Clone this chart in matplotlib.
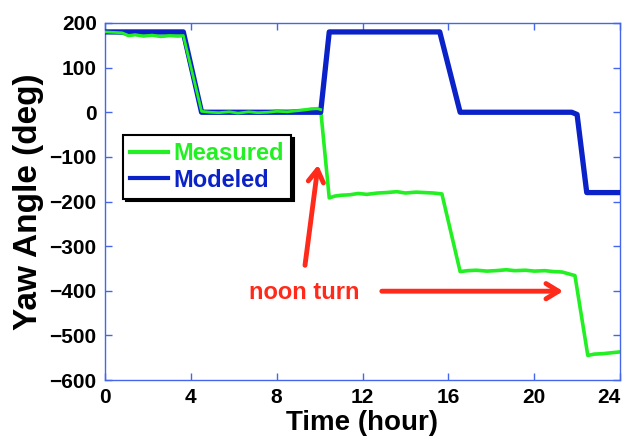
import numpy as np
import matplotlib.pyplot as plt

plt.rcParams['font.family'] = ['Liberation Sans', 'DejaVu Sans']
plt.rcParams['font.weight'] = 'bold'

# modeled yaw (deg) vs time (hour)
t_model = [0, 3.65, 4.5, 10.05, 10.45, 15.6, 16.55, 21.75, 22.0, 22.45, 24]
yaw_model = [180, 180, 0, 0, 180, 180, 0, 0, -5, -180, -180]

# measured yaw
t_meas = [0, 0.4, 0.8, 1.1, 1.4, 1.8, 2.2, 2.6, 3.0, 3.4, 3.65, 4.5, 4.9, 5.3, 5.8, 6.2,
          6.7, 7.1, 7.6, 8.0, 8.5, 8.9, 9.3, 9.6, 9.9, 10.05, 10.45, 10.7, 11.0, 11.4,
          11.8, 12.2, 12.7, 13.1, 13.6, 14.0, 14.5, 14.9, 15.3, 15.7, 16.55, 16.9, 17.3,
          17.8, 18.2, 18.7, 19.1, 19.6, 20.0, 20.5, 20.9, 21.3, 21.6, 21.9, 22.5, 22.8,
          23.2, 23.6, 24.0]
yaw_meas = [180, 179, 178, 172, 174, 171, 173, 170, 172, 171, 172, 2, 0, -1, 1, -2,
            1, -1, 0, 2, 1, 3, 5, 7, 8, 6, -192, -188, -186, -185,
            -182, -184, -181, -180, -178, -181, -179, -180, -181, -183, -357, -355, -354,
            -356, -355, -353, -355, -354, -356, -355, -357, -358, -362, -366, -545, -542,
            -541, -539, -537]

fig = plt.figure(figsize=(6.3, 4.41), dpi=100)
ax = fig.add_axes([105/630, 1-380/441, 515/630, 357/441])

ax.plot(t_meas, yaw_meas, color='#22f022', lw=2.6, label='Measured', zorder=2)
ax.plot(t_model, yaw_model, color='#0a22c8', lw=3.8, label='Modeled', zorder=3)
# measured drawn over the modeled where they overlap early on
ax.plot(t_meas[:26], yaw_meas[:26], color='#22f022', lw=2.0, zorder=4)

ax.set_xlim(0, 24)
ax.set_ylim(-600, 200)
ax.set_xticks(np.arange(0, 25, 4))
ax.set_yticks(np.arange(-600, 201, 100))

spine_c = '#4466ee'
for s in ax.spines.values():
    s.set_color(spine_c)
    s.set_linewidth(1.0)
ax.tick_params(direction='in', length=5, width=1, color=spine_c, labelsize=15,
               top=True, right=True, pad=6)
for lab in ax.get_xticklabels() + ax.get_yticklabels():
    lab.set_fontweight('bold')
ax.get_xticklabels()[-1].set_horizontalalignment('right')
ax.get_xticklabels()[-1].set_x(24.45)

ax.set_xlabel('Time (hour)', fontsize=20, fontweight='bold', labelpad=2)
ax.set_ylabel('Yaw Angle (deg)', fontsize=24, fontweight='bold', labelpad=4)

leg = ax.legend(loc='upper left', bbox_to_anchor=(123/630, 1-135/441),
                bbox_transform=fig.transFigure, borderaxespad=0,
                prop={'size': 17, 'weight': 'bold'}, labelcolor='linecolor',
                fancybox=False, edgecolor='black', framealpha=1,
                handlelength=1.6, handletextpad=0.25, borderpad=0.3,
                labelspacing=0.15, shadow={'color': 'black', 'alpha': 1, 'ox': 2, 'oy': -2})
leg.get_frame().set_linewidth(1.5)
for h in leg.get_lines():
    h.set_linewidth(3)

red = '#ff2a1a'
arrow_kw = dict(arrowstyle='->,head_length=0.9,head_width=0.55', color=red, lw=3.5,
                shrinkA=0, shrinkB=0)
ax.annotate('', xy=(9.93, -118), xytext=(9.32, -343), arrowprops=arrow_kw)
ax.annotate('', xy=(21.35, -401), xytext=(12.9, -401), arrowprops=arrow_kw)
ax.text(9.3, -403, 'noon turn', color=red, fontsize=17, fontweight='bold',
        ha='center', va='center')

fig.savefig('out.png', dpi=100)
